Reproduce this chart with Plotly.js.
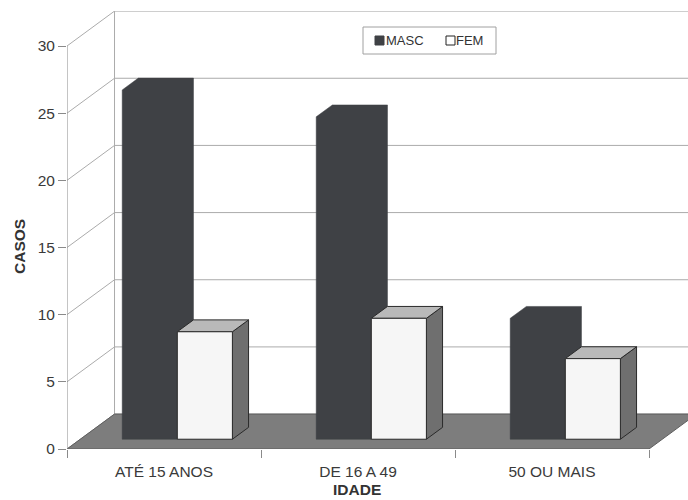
<!DOCTYPE html>
<html>
<head>
<meta charset="utf-8">
<script src="https://cdn.plot.ly/plotly-3.0.1.min.js"></script>
<style>
  html, body { margin: 0; padding: 0; background: #ffffff; }
  #chart { width: 688px; height: 500px; }
</style>
</head>
<body>
<div id="chart"></div>
<script>
// Cases by age group and sex
const categories = ['ATÉ 15 ANOS', 'DE 16 A 49', '50 OU MAIS'];
const seriesNames = ['MASC', 'FEM'];
const masc = [26, 24, 9];
const fem = [8, 9, 6];
const yTicks = [0, 5, 10, 15, 20, 25, 30];

// Oblique projection of the 3-D box: full depth of the floor in axis units
const DX = 0.245;      // horizontal shift of the back plane (x units)
const DY = 2.6;        // vertical shift of the back plane (y units)
const F0 = 0.28;       // depth fraction where the bar fronts sit
const FD = 0.34;       // bar depth as a fraction of the floor depth
const BAR_W = 0.284;   // bar width (x units)

const yTop = yTicks[yTicks.length - 1];
const xLeft = -0.5;
const xRight = categories.length - 0.5;

// Plot-area geometry (px)
const M = { l: 67, r: 0, t: 11, b: 51 };
const W = 688, H = 500;
const PW = W - M.l - M.r, PH = H - M.t - M.b;
const px2paperX = px => (px - M.l) / PW;
const px2paperY = py => (H - M.b - py) / PH;

const colors = {
  masc: '#3f4145',
  femFront: '#f6f6f6',
  femTop: '#b9b9b9',
  femSide: '#6f6f6f',
  floor: '#7d7d7d',
  grid: '#ababab'
};

const traces = [];

function poly(pts, fill, lineColor, lineWidth) {
  traces.push({
    type: 'scatter', mode: 'lines',
    x: pts.map(p => p[0]).concat([pts[0][0]]),
    y: pts.map(p => p[1]).concat([pts[0][1]]),
    fill: 'toself', fillcolor: fill,
    line: { color: lineColor, width: lineWidth },
    hoverinfo: 'skip', showlegend: false
  });
}

function line(pts, color, width) {
  traces.push({
    type: 'scatter', mode: 'lines',
    x: pts.map(p => p[0]), y: pts.map(p => p[1]),
    line: { color: color, width: width },
    hoverinfo: 'skip', showlegend: false
  });
}

// Walls: gridlines on the left side wall and on the back wall
yTicks.forEach(t => {
  line([[xLeft, t], [xLeft + DX, t + DY], [xRight + DX, t + DY]], colors.grid, 1);
});
line([[xLeft + DX, DY], [xLeft + DX, yTop + DY]], colors.grid, 1);

// Floor
poly([[xLeft, 0], [xRight, 0], [xRight + DX, DY], [xLeft + DX, DY]], colors.floor, '#5e5e5e', 1);

// Column corners for a bar starting at x0 with the given value
function corners(x0, value) {
  const b = F0 * DY, sx = F0 * DX;
  const dx = FD * DX, dy = FD * DY;
  const l = x0 + sx, r = x0 + sx + BAR_W;
  return { b, l, r, dx, dy, v: value };
}

// Dark column: all faces share one colour, so draw its outline as one solid
function solidColumn(x0, value, fill) {
  const c = corners(x0, value);
  poly([[c.l, c.b], [c.l, c.b + c.v], [c.l + c.dx, c.b + c.v + c.dy],
        [c.r + c.dx, c.b + c.v + c.dy], [c.r + c.dx, c.b + c.dy], [c.r, c.b]], fill, fill, 0.5);
}

// Light column: side, top, then front face
function shadedColumn(x0, value, front, top, side, edge) {
  const c = corners(x0, value);
  const { b, l, r, dx, dy, v } = c;
  poly([[r, b], [r + dx, b + dy], [r + dx, b + v + dy], [r, b + v]], side, edge, 1);
  poly([[l, b + v], [r, b + v], [r + dx, b + v + dy], [l + dx, b + v + dy]], top, edge, 1);
  poly([[l, b], [r, b], [r, b + v], [l, b + v]], front, edge, 1);
}

categories.forEach((c, i) => {
  solidColumn(i - BAR_W, masc[i], colors.masc);
  shadedColumn(i, fem[i], colors.femFront, colors.femTop, colors.femSide, '#2a2a2a');
});

// Front value axis line, up to the last tick
traces.push({
  type: 'scatter', mode: 'lines', xaxis: 'x2', yaxis: 'y',
  x: [xLeft, xLeft], y: [0, yTop],
  line: { color: '#8a8a8a', width: 1 },
  hoverinfo: 'skip', showlegend: false
});

const fontFamily = 'Liberation Sans, Arial, sans-serif';
const tickFont = { family: fontFamily, size: 15.5, color: '#3a3a3a' };
const titleFont = { family: fontFamily, size: 15.5, color: '#333333', weight: 'bold' };
const xRange = [xLeft, xLeft + PW / 194];

// Legend box with swatches
const legendBox = { x0: 363, x1: 496, y0: 27, y1: 54 };
const legendItems = [
  { name: seriesNames[0], sx: 375, tx: 385, fill: colors.masc, edge: colors.masc },
  { name: seriesNames[1], sx: 446, tx: 455, fill: '#ffffff', edge: '#222222' }
];
const legendMid = (legendBox.y0 + legendBox.y1) / 2;
const SW = 9;

const shapes = [{
  type: 'rect', xref: 'paper', yref: 'paper', layer: 'above',
  x0: px2paperX(legendBox.x0), x1: px2paperX(legendBox.x1),
  y0: px2paperY(legendBox.y1), y1: px2paperY(legendBox.y0),
  fillcolor: '#ffffff', line: { color: '#a0a0a0', width: 1 }
}];
legendItems.forEach(it => {
  shapes.push({
    type: 'rect', xref: 'paper', yref: 'paper', layer: 'above',
    x0: px2paperX(it.sx), x1: px2paperX(it.sx + SW),
    y0: px2paperY(legendMid + SW / 2), y1: px2paperY(legendMid - SW / 2),
    fillcolor: it.fill, line: { color: it.edge, width: 1 }
  });
});

const annotations = legendItems.map(it => ({
  xref: 'paper', yref: 'paper', x: px2paperX(it.tx), y: px2paperY(legendMid),
  xanchor: 'left', yanchor: 'middle', showarrow: false, borderpad: 0,
  text: it.name, font: { family: fontFamily, size: 13, color: '#333333' }
}));
annotations.push({
  xref: 'paper', yref: 'paper', x: px2paperX(19), y: px2paperY(247),
  xanchor: 'center', yanchor: 'middle', showarrow: false, textangle: -90,
  text: 'CASOS', font: titleFont
});
annotations.push({
  xref: 'paper', yref: 'paper', x: px2paperX(357), y: px2paperY(499),
  xanchor: 'center', yanchor: 'bottom', showarrow: false, borderpad: 0,
  text: 'IDADE', font: titleFont
});

const layout = {
  width: W, height: H,
  margin: M,
  paper_bgcolor: '#ffffff', plot_bgcolor: '#ffffff',
  showlegend: false,
  shapes: shapes,
  annotations: annotations,
  xaxis: {
    type: 'linear', range: xRange, fixedrange: true,
    tickmode: 'array', tickvals: categories.map((c, i) => i), ticktext: categories,
    ticks: '', ticklabelstandoff: 11, showgrid: false, zeroline: false, showline: false,
    tickfont: tickFont
  },
  xaxis2: {
    type: 'linear', range: xRange, overlaying: 'x', anchor: 'y', side: 'bottom',
    tickmode: 'array', tickvals: categories.map((c, i) => i - 0.5).concat([xRight]),
    ticks: 'outside', ticklen: 8, tickcolor: '#8a8a8a', tickwidth: 1,
    showticklabels: false, showgrid: false, zeroline: false, showline: false
  },
  yaxis: {
    type: 'linear', range: [0, PH / 13.433], fixedrange: true,
    tickmode: 'array', tickvals: yTicks,
    ticks: 'outside', ticklen: 8, tickcolor: '#8a8a8a', tickwidth: 1,
    showgrid: false, zeroline: false, showline: false,
    tickfont: tickFont
  }
};

Plotly.newPlot('chart', traces, layout, { displayModeBar: false, staticPlot: true });
</script>
</body>
</html>
